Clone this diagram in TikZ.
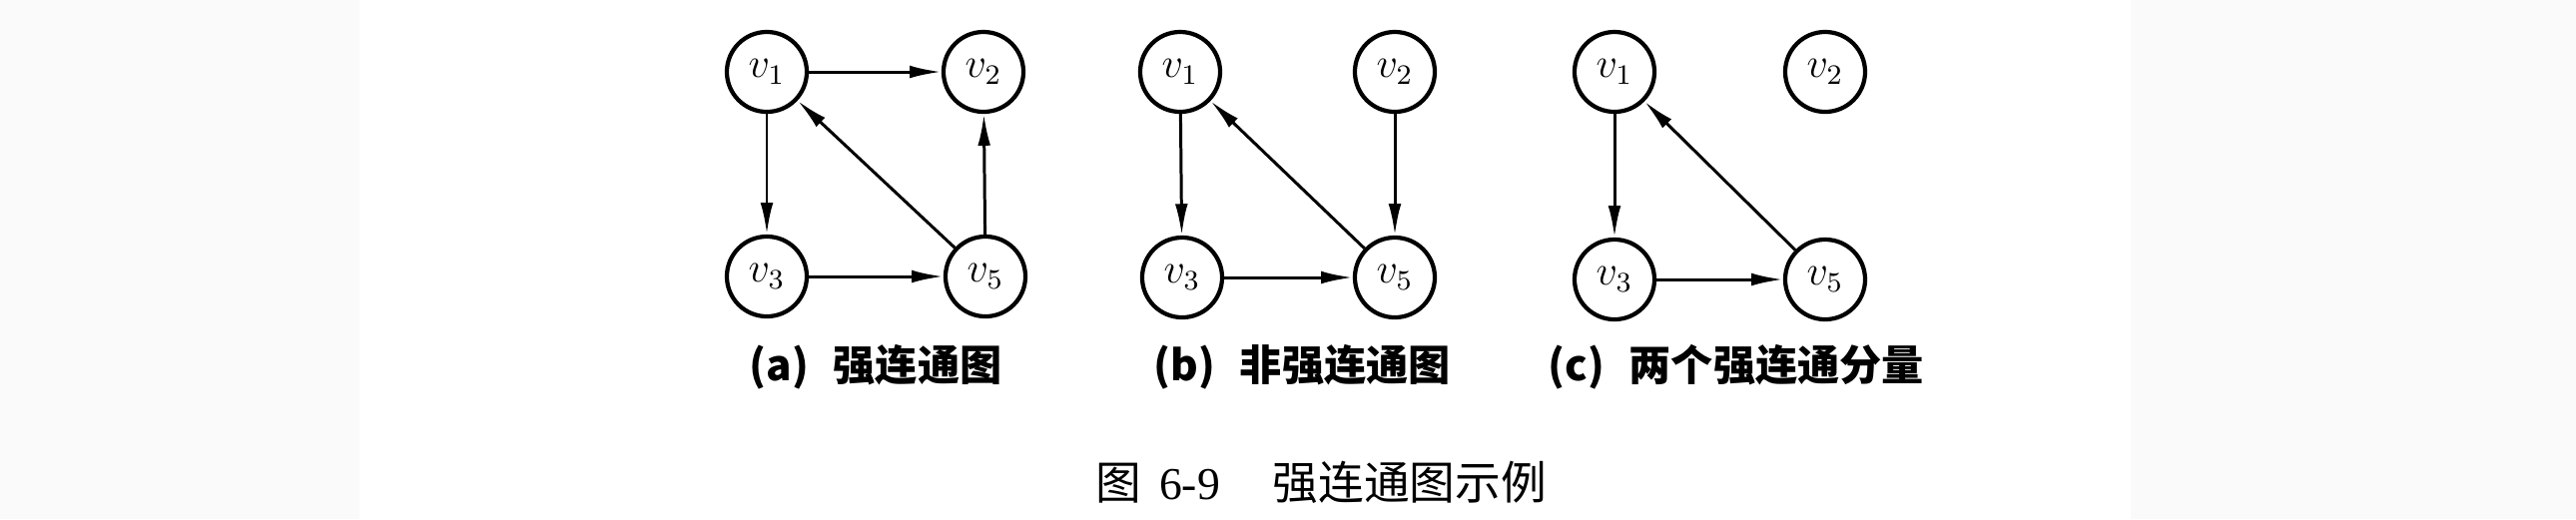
\documentclass[tikz,border=0pt]{standalone}
\usepackage{fontspec}
\newfontfamily\cjk{Noto Sans CJK SC}
\newfontfamily\serifnum{Liberation Serif}
\usetikzlibrary{arrows.meta}
\definecolor{bggray}{RGB}{250,250,250}
\begin{document}
\begin{tikzpicture}[x=0.01cm,y=-0.01cm,
  vtx/.style={circle,draw,line width=1.2pt,minimum size=0.8cm,inner sep=0pt,font=\fontsize{12}{14}\selectfont},
  arr/.style={line width=0.85pt,-{Latex[length=9pt,width=3.6pt]}},
  lab/.style={font=\cjk\bfseries\fontsize{12}{14}\selectfont,anchor=west,inner sep=0pt},
  captext/.style={font=\cjk\fontsize{13}{15}\selectfont,anchor=west,inner sep=0pt}]
\useasboundingbox (0,0) rectangle (2580,520);
\fill[bggray] (0,0) rectangle (360,520);
\fill[bggray] (2134,0) rectangle (2580,520);
% (a)
\node[vtx] (a1) at (768,72) {$v_1$};
\node[vtx] (a2) at (985,72) {$v_2$};
\node[vtx] (a3) at (768,277) {$v_3$};
\node[vtx] (a5) at (987,277) {$v_5$};
\draw[arr] (a1) -- (a2);
\draw[arr] (a1) -- (a3);
\draw[arr] (a3) -- (a5);
\draw[arr] (a5) -- (a2);
\draw[arr] (a5) -- (a1);
% (b)
\node[vtx] (b1) at (1182,72) {$v_1$};
\node[vtx] (b2) at (1397,72) {$v_2$};
\node[vtx] (b3) at (1184,278) {$v_3$};
\node[vtx] (b5) at (1397,278) {$v_5$};
\draw[arr] (b1) -- (b3);
\draw[arr] (b2) -- (b5);
\draw[arr] (b3) -- (b5);
\draw[arr] (b5) -- (b1);
% (c)
\node[vtx] (c1) at (1617,72) {$v_1$};
\node[vtx] (c2) at (1828,72) {$v_2$};
\node[vtx] (c3) at (1617,280) {$v_3$};
\node[vtx] (c5) at (1828,280) {$v_5$};
\draw[arr] (c1) -- (c3);
\draw[arr] (c3) -- (c5);
\draw[arr] (c5) -- (c1);
% labels
\node[lab] (la) at (750,368) {(a)\hspace{7pt}强连通图};
\node[lab] (lb) at (1155,368) {(b)\hspace{7pt}非强连通图};
\node[lab] (lc) at (1550,368) {(c)\hspace{7pt}两个强连通分量};
\node[captext] (cp) at (1097,483) {图\hspace{5pt}{\serifnum 6-9}\hspace{15pt}强连通图示例};
\end{tikzpicture}
\end{document}
